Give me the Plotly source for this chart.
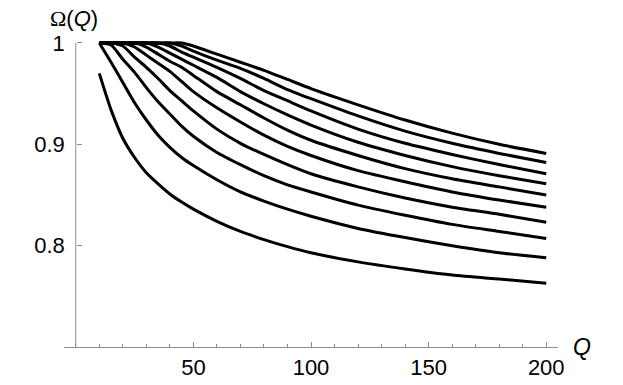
import plotly.graph_objects as go

Q = [10, 15, 20, 25, 30, 35, 40, 45, 50, 60, 70, 80, 90, 100, 120, 140, 160, 180, 200]

c1 = [0.970, 0.934, 0.906, 0.887, 0.872, 0.861, 0.851, 0.843, 0.836, 0.824, 0.814, 0.806, 0.799, 0.793, 0.784, 0.777, 0.771, 0.767, 0.763]
c2 = [1.000, 0.981, 0.961, 0.941, 0.924, 0.909, 0.897, 0.887, 0.879, 0.865, 0.853, 0.844, 0.836, 0.829, 0.817, 0.808, 0.800, 0.793, 0.788]
c3 = [1.000, 0.998, 0.984, 0.971, 0.956, 0.942, 0.930, 0.918, 0.908, 0.892, 0.880, 0.869, 0.860, 0.853, 0.840, 0.830, 0.821, 0.814, 0.807]
c4 = [1.000, 1.000, 0.997, 0.986, 0.976, 0.965, 0.953, 0.943, 0.933, 0.915, 0.901, 0.890, 0.880, 0.871, 0.858, 0.847, 0.838, 0.831, 0.823]
c5 = [1.000, 1.000, 1.000, 0.996, 0.988, 0.980, 0.972, 0.962, 0.952, 0.936, 0.922, 0.909, 0.898, 0.889, 0.874, 0.863, 0.853, 0.845, 0.838]
c6 = [1.000, 1.000, 1.000, 1.000, 0.996, 0.989, 0.982, 0.976, 0.968, 0.952, 0.939, 0.926, 0.914, 0.904, 0.889, 0.876, 0.866, 0.858, 0.850]
c7 = [1.000, 1.000, 1.000, 1.000, 1.000, 0.996, 0.990, 0.984, 0.978, 0.966, 0.952, 0.940, 0.929, 0.919, 0.902, 0.889, 0.878, 0.869, 0.861]
c8 = [1.000, 1.000, 1.000, 1.000, 1.000, 1.000, 0.997, 0.991, 0.986, 0.976, 0.965, 0.953, 0.943, 0.933, 0.915, 0.901, 0.890, 0.880, 0.871]
c9 = [1.000, 1.000, 1.000, 1.000, 1.000, 1.000, 1.000, 0.997, 0.992, 0.983, 0.975, 0.965, 0.954, 0.945, 0.928, 0.913, 0.901, 0.891, 0.882]
c10 = [1.000, 1.000, 1.000, 1.000, 1.000, 1.000, 1.000, 1.000, 0.997, 0.989, 0.981, 0.973, 0.964, 0.955, 0.939, 0.924, 0.911, 0.900, 0.891]

curves = [c1, c2, c3, c4, c5, c6, c7, c8, c9, c10]

x_tickvals = [50, 100, 150, 200]
x_ticktext = ["50", "100", "150", "200"]
y_tickvals = [0.8, 0.9, 1.0]
y_ticktext = ["0.8", "0.9", "1"]

AX = "#8c8c8c"
FONT = "Liberation Sans, Arial, Helvetica, sans-serif"

L, R, T, B = 64, 65, 37, 38
W, H = 623, 385
PW, PH = W - L - R, H - T - B


def px_to_paper(px, py):
    return (px - L) / PW, (H - B - py) / PH


fig = go.Figure()
for c in curves:
    fig.add_trace(go.Scatter(x=Q, y=c, mode="lines",
                             line=dict(color="black", width=3, shape="spline", smoothing=0.6),
                             showlegend=False, hoverinfo="skip"))

ox, oy = px_to_paper(48, 19)
qx, qy = px_to_paper(582, 347)

fig.update_layout(
    width=W, height=H,
    margin=dict(l=L, r=R, t=T, b=B, autoexpand=False),
    paper_bgcolor="white", plot_bgcolor="white",
    font=dict(family=FONT, size=22, color="black"),
    xaxis=dict(range=[-5, 205], showgrid=False, zeroline=False, automargin=False,
               showline=True, linecolor=AX, linewidth=1,
               ticks="inside", ticklen=5, tickcolor=AX, tickwidth=1,
               tickvals=x_tickvals, ticktext=x_ticktext,
               minor=dict(dtick=10, tick0=0, ticks="inside", ticklen=3, tickcolor=AX, tickwidth=1),
               tickfont=dict(size=22), ticklabelstandoff=1),
    yaxis=dict(range=[0.7, 1.0059], showgrid=False, zeroline=False, automargin=False,
               showline=False, anchor="free", position=5 / 210,
               ticks="inside", ticklen=5, tickcolor=AX, tickwidth=1,
               tickvals=y_tickvals, ticktext=y_ticktext,
               tickfont=dict(size=22), ticklabelstandoff=11),
    shapes=[dict(type="line", xref="x", yref="y", x0=0, x1=0, y0=0.7, y1=1.0,
                 line=dict(color=AX, width=1))],
    annotations=[
        dict(x=ox, y=oy, xref="paper", yref="paper", showarrow=False,
             text="<span style='font-family:Liberation Serif'>Ω</span>(<i>Q</i>)",
             font=dict(size=22), xanchor="left", yanchor="middle"),
        dict(x=qx, y=qy, xref="paper", yref="paper", showarrow=False,
             text="<i>Q</i>", font=dict(size=23), xanchor="center", yanchor="middle"),
    ],
)

fig.write_html("out.html", config={"displayModeBar": False},
               post_script="document.body.style.margin='0px';")
